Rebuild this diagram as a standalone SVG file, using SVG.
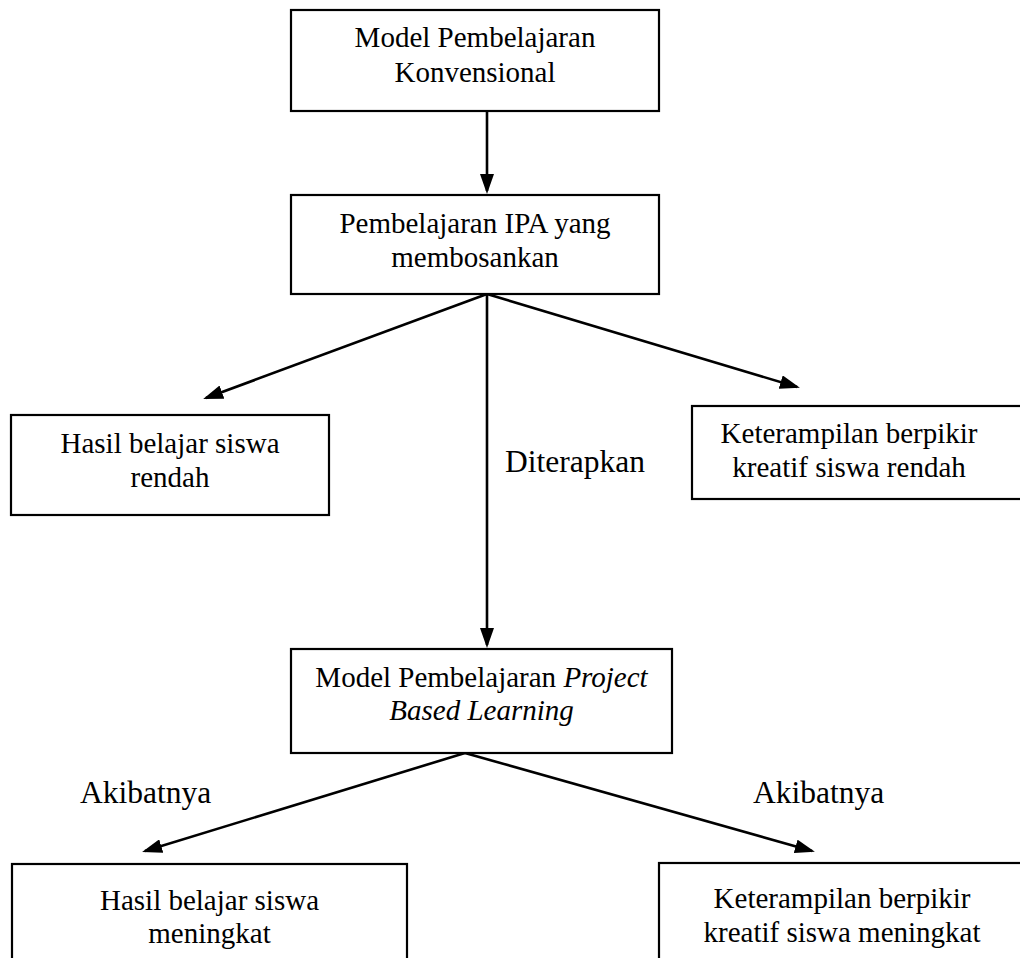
<svg xmlns="http://www.w3.org/2000/svg" width="1020" height="958" viewBox="0 0 1020 958">
<style>
.box{fill:#fff;stroke:#000;stroke-width:2.2}
.t{font-family:"Liberation Serif","Times New Roman",serif;font-size:29px;fill:#000;text-anchor:middle}
.lbl{font-family:"Liberation Serif","Times New Roman",serif;font-size:31.5px;fill:#000}
.conn{stroke:#000;stroke-width:2.6;fill:none;marker-end:url(#ah)}
</style>
<defs>
<marker id="ah" markerUnits="userSpaceOnUse" markerWidth="20" markerHeight="14" viewBox="0 0 20 14" refX="17" refY="7" orient="auto">
<path d="M0,0 L20,7 L0,14 z" fill="#000"/>
</marker>
</defs>
<rect width="1020" height="958" fill="#fff"/>
<g id="connectors">
<line class="conn" x1="487" y1="111" x2="487" y2="191"/>
<line class="conn" x1="487" y1="294" x2="206" y2="398"/>
<line class="conn" x1="487" y1="294" x2="797" y2="387"/>
<line class="conn" x1="487" y1="294" x2="487" y2="645"/>
<line class="conn" x1="465" y1="753" x2="145" y2="851"/>
<line class="conn" x1="465" y1="753" x2="812" y2="851"/>
</g>
<g id="node-konvensional">
<rect class="box" x="291" y="10" width="368" height="101"/>
<text class="t" x="475" y="47">Model Pembelajaran</text>
<text class="t" x="475" y="82">Konvensional</text>
</g>
<g id="node-ipa">
<rect class="box" x="291" y="195" width="368" height="99"/>
<text class="t" x="475" y="233">Pembelajaran IPA yang</text>
<text class="t" x="475" y="267">membosankan</text>
</g>
<g id="node-hasil-rendah">
<rect class="box" x="11" y="415" width="318" height="100"/>
<text class="t" x="170" y="453">Hasil belajar siswa</text>
<text class="t" x="170" y="487">rendah</text>
</g>
<g id="node-kreatif-rendah">
<rect class="box" x="692" y="406" width="340" height="93"/>
<text class="t" x="849" y="443">Keterampilan berpikir</text>
<text class="t" x="849" y="477">kreatif siswa rendah</text>
</g>
<g id="label-diterapkan">
<text class="lbl" x="505" y="472">Diterapkan</text>
</g>
<g id="node-pbl">
<rect class="box" x="291" y="649" width="381" height="104"/>
<text class="t" x="481.5" y="687">Model Pembelajaran <tspan font-style="italic">Project</tspan></text>
<text class="t" x="481.5" y="720" font-style="italic">Based Learning</text>
</g>
<g id="label-akibatnya-kiri">
<text class="lbl" x="80" y="803">Akibatnya</text>
</g>
<g id="label-akibatnya-kanan">
<text class="lbl" x="753" y="803">Akibatnya</text>
</g>
<g id="node-hasil-meningkat">
<rect class="box" x="12" y="864" width="395" height="110"/>
<text class="t" x="209.5" y="910">Hasil belajar siswa</text>
<text class="t" x="209.5" y="943">meningkat</text>
</g>
<g id="node-kreatif-meningkat">
<rect class="box" x="659" y="863" width="370" height="110"/>
<text class="t" x="842" y="908">Keterampilan berpikir</text>
<text class="t" x="842" y="942">kreatif siswa meningkat</text>
</g>
</svg>
